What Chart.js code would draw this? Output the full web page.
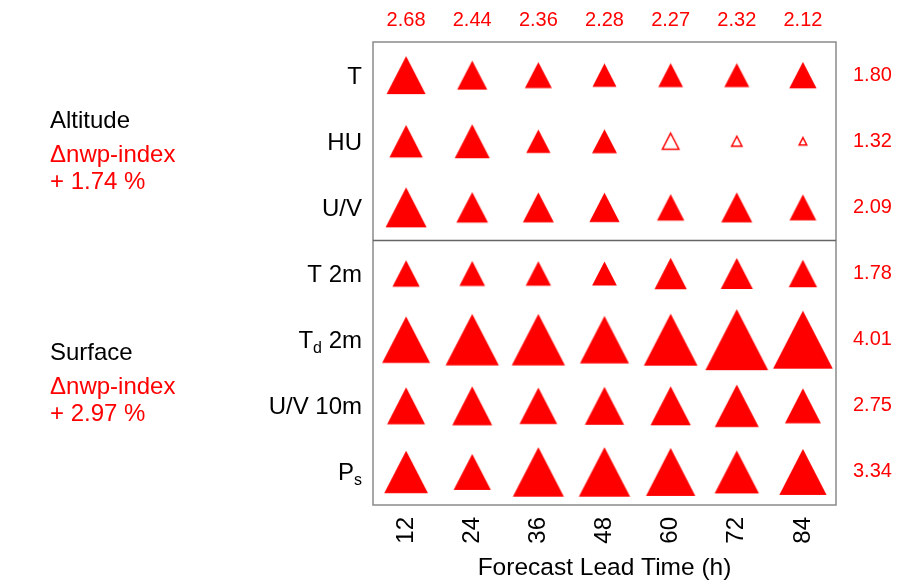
<!DOCTYPE html>
<html>
<head>
<meta charset="utf-8">
<script src="https://cdn.jsdelivr.net/npm/chart.js@4.4.0/dist/chart.umd.min.js"></script>
<style>
  html, body { margin: 0; padding: 0; background: #fff; }
  #wrap { width: 914px; height: 583px; }
</style>
</head>
<body>
<div id="wrap"><canvas id="scoreCard" width="914" height="583"></canvas></div>
<script>
// forecast lead times (h) along the bottom
const leadTimes = [12, 24, 36, 48, 60, 72, 84];

// variable names, "_{..}" marks a subscript
const variables = ['T', 'HU', 'U/V', 'T 2m', 'T_{d} 2m', 'U/V 10m', 'P_{s}'];

const gainT     = [2.73, 1.97, 1.71, 1.46, 1.52, 1.54, 1.74];
const gainHU    = [2.25, 2.39, 1.48, 1.54, 0.95, 0.42, 0.19];
const gainUV    = [2.90, 2.11, 2.05, 1.99, 1.74, 2.05, 1.69];
const gainT2m   = [1.74, 1.60, 1.57, 1.52, 2.16, 2.14, 1.82];
const gainTd2m  = [3.49, 3.94, 3.94, 3.58, 3.97, 4.74, 4.48];
const gainUV10m = [2.64, 2.81, 2.62, 2.75, 2.84, 3.15, 2.47];
const gainPs    = [3.13, 2.58, 3.75, 3.77, 3.60, 3.18, 3.43];

// cells that are not significant (hollow): [variable index, lead time index]
const notSignificant = [[1, 4], [1, 5], [1, 6]];

// mean gains printed around the card
const leadMeans = ['2.68', '2.44', '2.36', '2.28', '2.27', '2.32', '2.12'];
const variableMeans = ['1.80', '1.32', '2.09', '1.78', '4.01', '2.75', '3.34'];

// groups on the left
const groupNames = ['Altitude', 'Surface'];
const groupDeltas = ['+ 1.74 %', '+ 2.97 %'];
const groupRows = [[0, 2], [3, 6]];

const RED = '#ff0000';
const FAMILY = '"Liberation Sans", Arial, Helvetica, sans-serif';

// triangle marker, base roughly equal to height, size grows with the gain
function makeTriangle(gain, hollow) {
  const size = 6.8 + 11.8 * gain;
  const w = Math.ceil(size) + 4;
  const cv = document.createElement('canvas');
  cv.width = w;
  cv.height = w;
  const ctx = cv.getContext('2d');
  const b = hollow ? size - 1.5 : size;
  const h = b * 0.97;
  const x0 = (w - b) / 2, y0 = (w - h) / 2;
  ctx.beginPath();
  ctx.moveTo(w / 2, y0);
  ctx.lineTo(x0 + b, y0 + h);
  ctx.lineTo(x0, y0 + h);
  ctx.closePath();
  if (hollow) {
    ctx.lineWidth = 1.5;
    ctx.strokeStyle = RED;
    ctx.stroke();
  } else {
    ctx.fillStyle = RED;
    ctx.fill();
  }
  return cv;
}

const gains = [gainT, gainHU, gainUV, gainT2m, gainTd2m, gainUV10m, gainPs];
const points = [];
const markers = [];
gains.forEach((row, r) => {
  row.forEach((g, c) => {
    points.push({ x: leadTimes[c], y: r });
    const hollow = notSignificant.some(p => p[0] === r && p[1] === c);
    markers.push(makeTriangle(g, hollow));
  });
});

// label with optional subscript, right aligned at x
function drawLabel(ctx, text, x, y) {
  const parts = text.split(/(_\{[^}]*\})/).filter(p => p !== '').map(p =>
    p.startsWith('_{') ? { t: p.slice(2, -1), sub: true } : { t: p, sub: false });
  const mainFont = '24px ' + FAMILY;
  const subFont = '16px ' + FAMILY;
  let total = 0;
  parts.forEach(p => {
    ctx.font = p.sub ? subFont : mainFont;
    p.w = ctx.measureText(p.t).width;
    total += p.w;
  });
  let cx = x - total;
  ctx.textAlign = 'left';
  ctx.textBaseline = 'alphabetic';
  parts.forEach(p => {
    ctx.font = p.sub ? subFont : mainFont;
    ctx.fillText(p.t, cx, p.sub ? y + 5 : y);
    cx += p.w;
  });
}

const cardDecor = {
  id: 'cardDecor',
  beforeDatasetsDraw(chart) {
    const { ctx, chartArea: a, scales: { y } } = chart;
    ctx.save();
    ctx.strokeStyle = '#8a8a8a';
    ctx.lineWidth = 1.5;
    ctx.strokeRect(a.left, a.top, a.right - a.left, a.bottom - a.top);
    const ySplit = y.getPixelForValue(2.5);
    ctx.strokeStyle = '#666';
    ctx.beginPath();
    ctx.moveTo(a.left, ySplit);
    ctx.lineTo(a.right, ySplit);
    ctx.stroke();
    ctx.restore();
  },
  afterDraw(chart) {
    const { ctx, chartArea: a, scales: { y } } = chart;
    ctx.save();
    ctx.fillStyle = '#000';
    variables.forEach((name, i) => drawLabel(ctx, name, a.left - 11, y.getPixelForValue(i) + 8.5));

    // group names with their index change
    ctx.textAlign = 'left';
    ctx.textBaseline = 'alphabetic';
    ctx.font = '24px ' + FAMILY;
    groupNames.forEach((name, i) => {
      const mid = (y.getPixelForValue(groupRows[i][0]) + y.getPixelForValue(groupRows[i][1])) / 2;
      ctx.fillStyle = '#000';
      ctx.fillText(name, 50, mid - 13);
      ctx.fillStyle = RED;
      ctx.fillText('\u0394nwp-index', 50, mid + 21);
      ctx.fillText(groupDeltas[i], 50, mid + 48);
    });
    ctx.restore();
  }
};

new Chart(document.getElementById('scoreCard'), {
  type: 'scatter',
  data: {
    datasets: [{
      data: points,
      pointStyle: markers,
      pointRadius: 10,
      clip: false
    }]
  },
  options: {
    responsive: false,
    animation: false,
    layout: { padding: 0 },
    plugins: {
      legend: { display: false },
      tooltip: { enabled: false }
    },
    scales: {
      x: {
        type: 'linear',
        position: 'bottom',
        min: 6,
        max: 90,
        grid: { display: false, drawTicks: false },
        border: { display: false },
        afterBuildTicks: s => { s.ticks = leadTimes.map(v => ({ value: v })); },
        afterFit: s => { s.height = 78; },
        ticks: {
          autoSkip: false,
          minRotation: 90,
          maxRotation: 90,
          padding: 12,
          color: '#000',
          font: { size: 24, family: FAMILY }
        },
        title: {
          display: true,
          text: 'Forecast Lead Time (h)',
          color: '#000',
          font: { size: 24.5, family: FAMILY },
          padding: 0
        }
      },
      xTop: {
        type: 'linear',
        position: 'top',
        min: 6,
        max: 90,
        grid: { display: false, drawTicks: false },
        border: { display: false },
        afterBuildTicks: s => { s.ticks = leadTimes.map(v => ({ value: v })); },
        afterFit: s => { s.height = 42; },
        ticks: {
          autoSkip: false,
          maxRotation: 0,
          padding: 10,
          color: RED,
          font: { size: 20, family: FAMILY },
          callback: v => leadMeans[leadTimes.indexOf(v)]
        }
      },
      y: {
        type: 'linear',
        position: 'left',
        min: -0.5,
        max: 6.5,
        reverse: true,
        grid: { display: false, drawTicks: false },
        border: { display: false },
        ticks: { display: false },
        afterFit: s => { s.width = 373; }
      },
      yRight: {
        type: 'linear',
        position: 'right',
        min: -0.5,
        max: 6.5,
        reverse: true,
        grid: { display: false, drawTicks: false },
        border: { display: false },
        afterBuildTicks: s => { s.ticks = variableMeans.map((_, i) => ({ value: i })); },
        afterFit: s => { s.width = 78; },
        ticks: {
          autoSkip: false,
          padding: 17,
          color: RED,
          font: { size: 20, family: FAMILY },
          callback: v => variableMeans[v]
        }
      }
    }
  },
  plugins: [cardDecor]
});
</script>
</body>
</html>
